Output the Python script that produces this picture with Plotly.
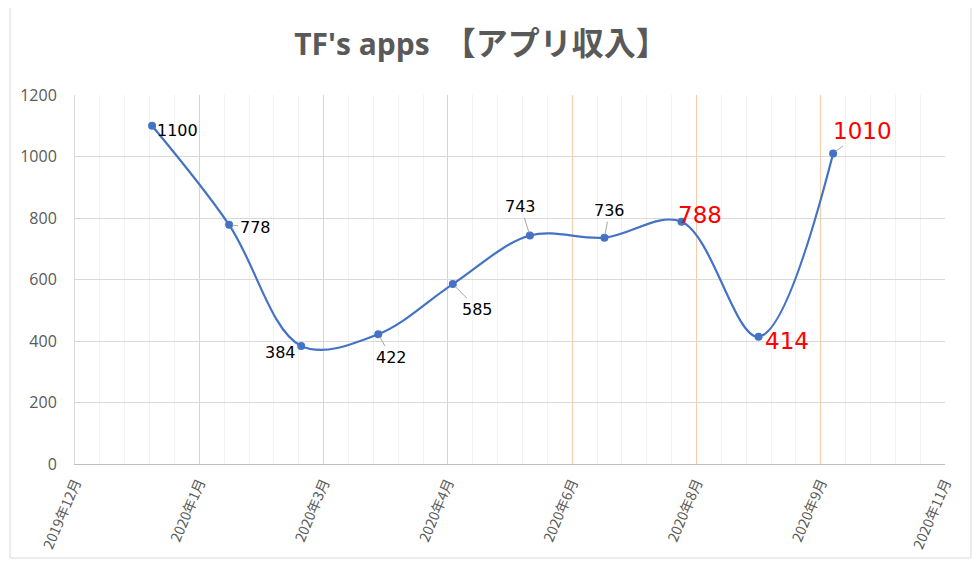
import plotly.graph_objects as go

# monthly app income
months = ['2020-01-01', '2020-02-01', '2020-03-01', '2020-04-01', '2020-05-01',
          '2020-06-01', '2020-07-01', '2020-08-01', '2020-09-01', '2020-10-01']
income = [1100, 778, 384, 422, 585, 743, 736, 788, 414, 1010]
highlight = [False, False, False, False, False, False, False, True, True, True]

DAY = 86400000
grey = '#595959'

fig = go.Figure()
fig.add_trace(go.Scatter(
    x=months, y=income, mode='lines+markers',
    line=dict(color='#4472c4', width=2.2, shape='spline', smoothing=1.0),
    marker=dict(color='#4472c4', size=8),
    hoverinfo='x+y', showlegend=False))

# label offsets in px (text centre relative to point)
offsets = [(25, 5), (26, 3), (-21, 7), (13, 23), (25, 25),
           (-9, -29), (5, -27), (18, -7), (28, 4), (29, -22)]

annotations = []
for m, v, hl, (dx, dy) in zip(months, income, highlight, offsets):
    annotations.append(dict(
        x=m, y=v, xref='x', yref='y', text=str(v),
        showarrow=True, arrowhead=0, arrowwidth=1, arrowcolor='#a6a6a6',
        ax=dx, ay=dy, standoff=3,
        font=dict(family='Liberation Sans Narrow, DejaVu Sans, sans-serif',
                  size=23 if hl else 16, color='#ff0000' if hl else '#000000')))

# page body has an 8px margin, so the figure is 8px smaller than the window
fig.update_layout(
    width=972, height=560,
    margin=dict(l=67, r=35, t=87, b=104),
    paper_bgcolor='white', plot_bgcolor='white',
    title=dict(
        text="TF's apps　<span style='font-family:Noto Sans CJK JP;font-size:32px'>【アプリ収入】</span>",
        x=0.4866, xanchor='center', y=0.934, yanchor='middle',
        font=dict(family='Open Sans, Noto Sans CJK JP', size=30, color=grey, weight='bold')),
    xaxis=dict(
        type='date', range=['2019-12-01', '2020-11-15'],
        tick0='2019-12-01', dtick=50 * DAY, tickformat='%Y年%-m月',
        tickangle=-67, ticks='', ticklabelstandoff=4, automargin=False,
        tickfont=dict(family='Noto Sans CJK JP', size=14, color=grey),
        showgrid=True, gridcolor='#f8cbad', gridwidth=1,
        minor=dict(tick0='2019-12-01', dtick=10 * DAY, showgrid=True,
                   gridcolor='#f2f2f2', ticks=''),
        showline=True, linecolor='#bfbfbf', linewidth=1,
        zeroline=False, fixedrange=True),
    yaxis=dict(
        range=[0, 1200], dtick=200, ticks='', ticklabelstandoff=14, automargin=False,
        tickfont=dict(family='Open Sans', size=16, color=grey),
        showgrid=True, gridcolor='#d9d9d9', gridwidth=1,
        showline=True, linecolor='#d9d9d9', linewidth=1,
        zeroline=False, fixedrange=True),
    annotations=annotations,
    shapes=[dict(type='rect', xref='paper', yref='paper',
                 x0=-0.0747, x1=1.0299, y0=-0.2547, y1=1.2466,
                 line=dict(color='#d9d9d9', width=1), layer='below')],
)

fig.write_html("out.html")
